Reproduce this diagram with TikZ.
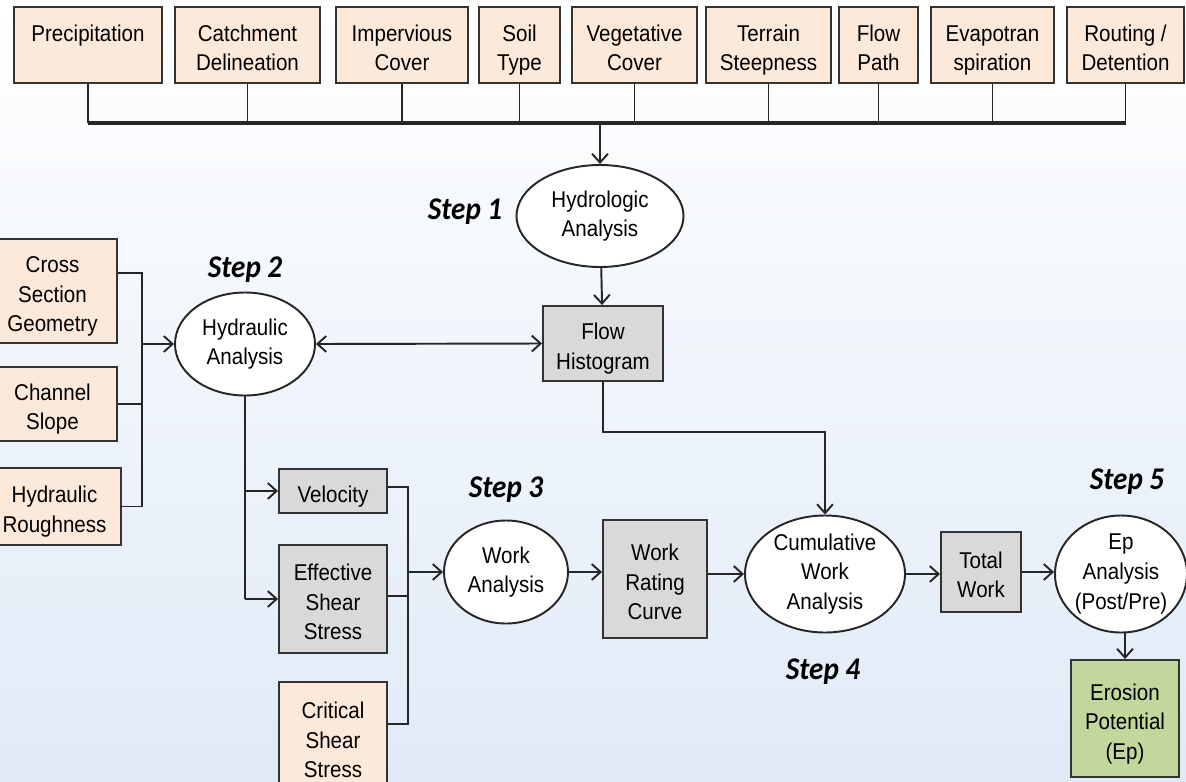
\documentclass[tikz,border=0pt]{standalone}
\usepackage{fontspec}
\setmainfont{Liberation Sans}[FakeStretch=0.9]
\newfontfamily\stepfont{Carlito}[FakeStretch=0.92]
\usetikzlibrary{arrows.meta,shapes.geometric}

\definecolor{inputfill}{RGB}{253,233,217}
\definecolor{calcfill}{RGB}{217,217,217}
\definecolor{resultfill}{RGB}{195,214,155}
\definecolor{bgblue}{RGB}{224,234,247}

% taller strut for the first line of a box
\newcommand\TopStrut{\rule{0pt}{\dimexpr0.7\baselineskip+6pt\relax}}
% box from corner to corner (pixel units)
\newcommand\FactorBox[7]{%
    \node[#1, minimum width={(#5-#3)*0.02cm}, minimum height={(#6-#4)*0.02cm}]
        (#2) at ({(#3+#5)/2},{(#4+#6)/2}) {\TopStrut#7\strut};
}
% oval: name, centre, size
\newcommand\StepOval[6]{%
    \node[oval, minimum width={#4*0.02cm}, minimum height={#5*0.02cm}]
        (#1) at (#2,#3) {#6};
}

\begin{document}
\begin{tikzpicture}[x=0.02cm, y=-0.02cm,
    txt/.style={font=\fontsize{13}{16.8}\selectfont, align=center, inner sep=0pt},
    factor/.style={txt, draw=black!80, line width=1.1pt, fill=inputfill},
    calc/.style={factor, fill=calcfill},
    result/.style={factor, fill=resultfill},
    oval/.style={txt, ellipse, draw=black!85, line width=1.1pt, fill=white},
    steplabel/.style={font=\stepfont\bfseries\itshape\fontsize{18}{20}\selectfont},
    link/.style={line width=1.1pt, black!85},
    arr/.style={link, -{Straight Barb[length=5pt,width=9pt]}},
    arrs/.style={link, {Straight Barb[length=5pt,width=9pt]}-{Straight Barb[length=5pt,width=9pt]}},
    bus/.style={link, line width=1.8pt}]
    \useasboundingbox (0,0) rectangle (1186,781);
    \shade[top color=white, middle color=white, bottom color=bgblue] (0,0) rectangle (1186,781);

    % inputs of the hydrology
    \FactorBox{factor}{prec}{14}{7}{162}{83}{Precipitation\\\mbox{}}
    \FactorBox{factor}{catch}{175}{7}{320}{83}{Catchment\\Delineation}
    \FactorBox{factor}{imperv}{336}{7}{468}{83}{Impervious\\Cover}
    \FactorBox{factor}{soil}{479}{7}{560}{83}{Soil\\Type}
    \FactorBox{factor}{veg}{572}{7}{697}{83}{Vegetative\\Cover}
    \FactorBox{factor}{terrain}{706}{7}{831}{83}{Terrain\\Steepness}
    \FactorBox{factor}{path}{839}{7}{918}{83}{Flow\\Path}
    \FactorBox{factor}{evapo}{931}{7}{1054}{83}{Evapotran\\spiration}
    \FactorBox{factor}{route}{1067}{7}{1184}{83}{Routing /\\Detention}
    \coordinate (bus) at (600,123);
    \foreach \n in {prec,catch,imperv,soil,veg,terrain,path,evapo,route}
        \draw[link] (\n.south) -- (\n.south |- bus);
    \draw[bus] (prec.south |- bus) -- (route.south |- bus);

    % step 1
    \StepOval{hydro}{600}{216}{167}{102}{Hydrologic\\Analysis}
    \node[steplabel] (step1) at (465,212) {Step 1};
    \FactorBox{calc}{flow}{543}{306}{663}{381}{Flow\\Histogram}
    \draw[arr] (bus) -- (hydro);
    \draw[arr] (hydro) -- (flow);

    % step 2
    \FactorBox{factor}{cross}{-12}{239}{117}{343}{Cross\\Section\\Geometry}
    \FactorBox{factor}{slope}{-12}{367}{117}{441}{Channel\\Slope}
    \FactorBox{factor}{rough}{-12}{468}{121}{545}{Hydraulic\\Roughness}
    \StepOval{hydra}{245}{344}{140}{103}{Hydraulic\\Analysis}
    \node[steplabel] (step2) at (245,270) {Step 2};
    \coordinate (lcol) at (142,0);
    \draw[link] ([yshift=0.36cm]cross.east) -| (rough.east -| lcol) -- (rough.east);
    \draw[link] (slope.east) -- (slope.east -| lcol);
    \draw[arr] (hydra.west -| lcol) -- (hydra.west);
    \draw[arrs] (hydra.east) -- (flow.west);

    % step 3
    \FactorBox{calc}{vel}{279}{469}{387}{513}{Velocity}
    \FactorBox{calc}{eff}{279}{545}{387}{653}{Effective\\Shear\\Stress}
    \FactorBox{factor}{crit}{279}{682}{387}{792}{Critical\\Shear\\Stress}
    \draw[link] (hydra.south) -- (hydra.south |- eff.west);
    \draw[arr] (hydra.south |- vel.west) -- (vel.west);
    \draw[arr] (hydra.south |- eff.west) -- (eff.west);
    \StepOval{work}{506}{572}{124}{103}{Work\\Analysis}
    \node[steplabel] (step3) at (506,490) {Step 3};
    \coordinate (rcol) at (408,0);
    \draw[link] ([yshift=0.08cm]vel.east) -| ([yshift=0.26cm]crit.east -| rcol) -- ([yshift=0.26cm]crit.east);
    \draw[link] ([yshift=0.06cm]eff.east) -- ([yshift=0.06cm]eff.east -| rcol);
    \draw[arr] (work.west -| rcol) -- (work.west);
    \FactorBox{calc}{wrc}{603}{520}{707}{638}{Work\\Rating\\Curve}
    \draw[arr] (work.east) -- (work.east -| wrc.west);

    % step 4
    \StepOval{cum}{825}{574}{160}{117}{Cumulative\\Work\\Analysis}
    \node[steplabel] (step4) at (823,672) {Step 4};
    \draw[arr] (wrc.east |- cum.west) -- (cum.west);
    \draw[arr] (flow.south) -- ++(0,50) -| (cum.north);
    \FactorBox{calc}{total}{941}{532}{1021}{612}{Total\\Work}
    \draw[arr] (cum.east) -- (cum.east -| total.west);

    % step 5
    \StepOval{ep}{1121}{574}{132}{117}{Ep\\Analysis\\(Post/Pre)}
    \node[steplabel] (step5) at (1127,482) {Step 5};
    \draw[arr] (total.east) -- (total.east -| ep.west);
    \FactorBox{result}{erosion}{1071}{660}{1179}{777}{Erosion\\Potential\\(Ep)}
    \draw[arr] (erosion.north |- ep.south) -- (erosion.north);
\end{tikzpicture}
\end{document}
